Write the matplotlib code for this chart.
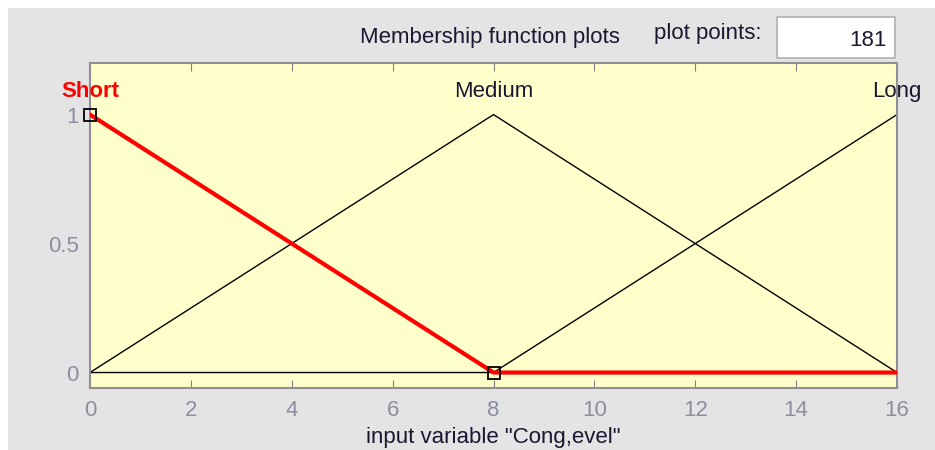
import numpy as np
import matplotlib.pyplot as plt
from matplotlib.patches import Rectangle

plt.rcParams['font.family'] = ['Liberation Sans', 'DejaVu Sans']

# triangular membership functions on the input range
x_range = [0, 16]
mf_names = ['Short', 'Medium', 'Long']
mf_params = [[-8, 0, 8], [0, 8, 16], [8, 16, 24]]
selected = 0
plot_points = 181
var_name = 'Cong,evel'

x_ticks = [0, 2, 4, 6, 8, 10, 12, 14, 16]
y_ticks = [0, 0.5, 1]
y_ticklabels = ['0', '0.5', '1']


def trimf(x, p):
    a, b, c = p
    return np.interp(x, [a, b, c], [0, 1, 0])


W, H = 935, 450
fs = 16
txt = '#181830'
fig = plt.figure(figsize=(W / 100, H / 100), dpi=100, facecolor='white')

# gray panel behind everything
fig.patches.append(Rectangle((8 / W, 0), 1, 1 - 8 / H, transform=fig.transFigure,
                             facecolor='#e4e4e4', edgecolor='none', zorder=-10))

ax = fig.add_axes([90 / W, 1 - 388 / H, 807 / W, 325 / H])
ax.set_facecolor('#ffffcc')

x = np.linspace(x_range[0], x_range[1], plot_points)
for i, p in enumerate(mf_params):
    if i == selected:
        continue
    ax.plot(x, trimf(x, p), color='black', lw=1.0, zorder=2)
ax.plot(x, trimf(x, mf_params[selected]), color='#ff0000', lw=3, zorder=3)

# handles at the ends of the selected function
sel = mf_params[selected]
hx = np.array([x_range[0], sel[2]])
ax.plot(hx, trimf(hx, sel), ls='none', marker='s', ms=8, mfc='none',
        mec='black', mew=1.3, zorder=4, clip_on=False)

for i, (name, p) in enumerate(zip(mf_names, mf_params)):
    ax.text(p[1], 1.05, name, ha='center', va='bottom', fontsize=fs,
            color='#ff0000' if i == selected else txt,
            fontweight='bold' if i == selected else 'normal', clip_on=False)

ax.set_xlim(x_range)
ax.set_ylim(-0.06, 1.2)
ax.set_xticks(x_ticks)
ax.set_yticks(y_ticks)
ax.set_yticklabels(y_ticklabels)
ax.tick_params(axis='x', direction='in', top=True, length=6, color='#808080',
               labelcolor='#8a8fa0', labelsize=fs, pad=9)
ax.tick_params(axis='y', length=0, labelcolor='#8a8fa0', labelsize=fs, pad=8)
for s in ax.spines.values():
    s.set_color('#909090')
    s.set_linewidth(1.5)

ax.set_xlabel('input variable "%s"' % var_name, fontsize=fs, color=txt,
              labelpad=4)

fig.text(490 / W, 1 - 37 / H, 'Membership function plots', ha='center',
         va='center', fontsize=fs, color=txt)
fig.text(708 / W, 1 - 33 / H, 'plot points:', ha='center', va='center',
         fontsize=fs, color=txt)
fig.patches.append(Rectangle((777 / W, 1 - 58 / H), 118 / W, 41 / H,
                             transform=fig.transFigure, facecolor='white',
                             edgecolor='#b0b0b0', lw=1.2, zorder=1))
fig.text(887 / W, 1 - 40 / H, str(plot_points), ha='right', va='center',
         fontsize=fs, color=txt)

fig.savefig('out.png', dpi=100, facecolor=fig.get_facecolor())
